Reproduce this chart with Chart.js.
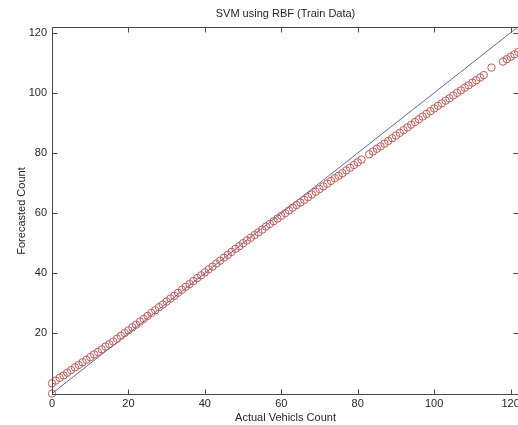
<!DOCTYPE html>
<html>
<head>
<meta charset="utf-8">
<script src="https://cdn.jsdelivr.net/npm/chart.js@4.4.0/dist/chart.umd.min.js"></script>
<style>
html,body{margin:0;padding:0;background:#fff;overflow:hidden;width:518px;height:425px;}
canvas{display:block;}
</style>
</head>
<body>
<canvas id="c" width="540" height="425" style="width:540px;height:425px"></canvas>
<script>
// ---- data ----
const actualCounts = [0,0,1,2,3,4,5,6,7,8,9,10,11,12,13,14,15,16,17,18,19,20,21,22,23,24,25,26,27,28,29,30,31,32,33,34,35,36,37,38,39,40,41,42,43,44,45,46,47,48,49,50,51,52,53,54,55,56,57,58,59,60,61,62,63,64,65,66,67,68,69,70,71,72,73,74,75,76,77,78,79,80,81,83,84,85,86,87,88,89,90,91,92,93,94,95,96,97,98,99,100,101,102,103,104,105,106,107,108,109,110,111,112,113,115,118,119,120,121,122];
const forecastCounts = [0,3.4,4.3,5.2,6.0,6.9,7.8,8.7,9.5,10.4,11.2,12.1,13.0,13.8,14.7,15.6,16.4,17.3,18.2,19.2,20.1,21.0,22.0,22.9,23.9,24.8,25.8,26.8,27.7,28.7,29.6,30.6,31.6,32.5,33.5,34.5,35.5,36.4,37.4,38.4,39.3,40.3,41.3,42.2,43.2,44.2,45.2,46.1,47.1,48.1,49.0,50.0,50.9,51.8,52.7,53.6,54.5,55.5,56.4,57.3,58.2,59.1,60.0,60.9,61.8,62.7,63.5,64.4,65.3,66.2,67.1,68.0,68.9,69.8,70.7,71.6,72.4,73.3,74.2,75.1,76.0,76.9,77.8,79.6,80.5,81.4,82.2,83.1,84.0,84.9,85.8,86.7,87.6,88.5,89.4,90.3,91.2,92.1,93.0,93.9,94.8,95.7,96.5,97.4,98.2,99.1,100.0,100.8,101.7,102.5,103.4,104.2,105.1,105.9,108.4,110.4,111.2,112.0,112.8,113.6];
const idealLineX = [0, 122];
const idealLineY = [0, 122];
const xTickValues = [0, 20, 40, 60, 80, 100, 120];
const yTickValues = [20, 40, 60, 80, 100, 120];
const titleText = 'SVM using RBF (Train Data)';
const xAxisLabel = 'Actual Vehicls Count';
const yAxisLabel = 'Forecasted Count';

const FONT = '"Liberation Sans", Arial, Helvetica, sans-serif';
const AXIS_COLOR = '#4a4a4a';
const TEXT_COLOR = '#262626';

const scatterPts = actualCounts.map((x, i) => ({x: x, y: forecastCounts[i]}));
const linePts = idealLineX.map((x, i) => ({x: x, y: idealLineY[i]}));

const boxTicks = {
  id: 'boxTicks',
  afterDraw(chart) {
    const {ctx, chartArea: a, scales: {x, y}} = chart;
    ctx.save();
    ctx.strokeStyle = AXIS_COLOR;
    ctx.lineWidth = 1;
    const L = Math.round(a.left) + 0.5, R = Math.round(a.right) - 0.5;
    const T = Math.round(a.top) + 0.5, B = Math.round(a.bottom) - 0.5;
    ctx.beginPath();
    ctx.rect(L, T, R - L, B - T);
    const tl = 5;
    xTickValues.forEach(v => {
      const px = Math.round(x.getPixelForValue(v)) + 0.5;
      ctx.moveTo(px, B); ctx.lineTo(px, B - tl);
      ctx.moveTo(px, T); ctx.lineTo(px, T + tl);
    });
    yTickValues.forEach(v => {
      const py = Math.round(y.getPixelForValue(v)) + 0.5;
      ctx.moveTo(L, py); ctx.lineTo(L + tl, py);
      ctx.moveTo(R, py); ctx.lineTo(R - tl, py);
    });
    ctx.stroke();
    ctx.restore();
  }
};

new Chart(document.getElementById('c'), {
  type: 'scatter',
  data: {
    datasets: [
      {
        label: 'forecast',
        data: scatterPts,
        showLine: false,
        clip: false,
        pointStyle: 'circle',
        pointRadius: 3.7,
        pointBorderWidth: 1,
        pointBorderColor: 'rgb(190,90,90)',
        pointBackgroundColor: 'rgba(0,0,0,0)'
      },
      {
        label: 'ideal',
        data: linePts,
        showLine: true,
        borderColor: 'rgb(95,105,160)',
        borderWidth: 1,
        pointRadius: 0
      }
    ]
  },
  options: {
    responsive: false,
    animation: false,
    events: [],
    layout: {padding: {left: 0, right: 21, top: 0, bottom: 0}},
    plugins: {
      legend: {display: false},
      tooltip: {enabled: false},
      title: {
        display: true,
        text: titleText,
        fullSize: false,
        color: TEXT_COLOR,
        font: {family: FONT, size: 11, weight: 'normal', lineHeight: 1.2},
        padding: {top: 7.4, bottom: 6.4}
      }
    },
    scales: {
      x: {
        type: 'linear',
        min: 0,
        max: 122.2,
        grid: {display: false, drawTicks: false},
        border: {display: false},
        afterBuildTicks: s => { s.ticks = xTickValues.map(v => ({value: v})); },
        afterFit: s => { s.height = 30; },
        ticks: {
          color: TEXT_COLOR,
          padding: 2,
          maxRotation: 0,
          autoSkip: false,
          font: {family: FONT, size: 11}
        },
        title: {
          display: true,
          text: xAxisLabel,
          color: TEXT_COLOR,
          font: {family: FONT, size: 11, lineHeight: 1.2},
          padding: {top: 0, bottom: 0.5}
        }
      },
      y: {
        type: 'linear',
        min: -0.5,
        max: 121.9,
        grid: {display: false, drawTicks: false},
        border: {display: false},
        afterBuildTicks: s => { s.ticks = yTickValues.map(v => ({value: v})); },
        afterFit: s => { s.width = 52; },
        ticks: {
          color: TEXT_COLOR,
          padding: 5,
          autoSkip: false,
          font: {family: FONT, size: 11}
        },
        title: {
          display: true,
          text: yAxisLabel,
          color: TEXT_COLOR,
          font: {family: FONT, size: 11, lineHeight: 1.2},
          padding: {top: 15, bottom: 0}
        }
      }
    }
  },
  plugins: [boxTicks]
});
</script>
</body>
</html>
